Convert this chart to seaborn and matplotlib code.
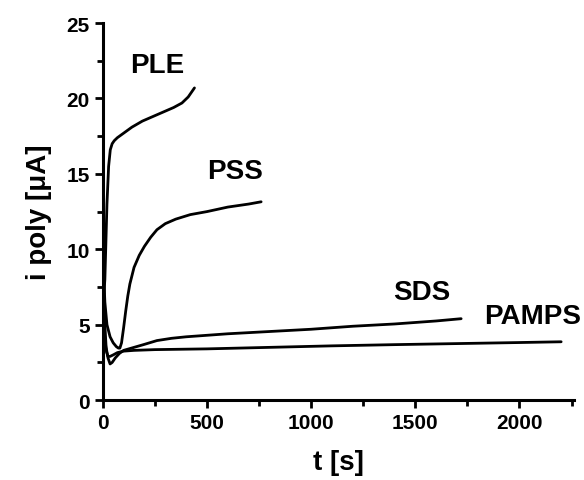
import matplotlib
matplotlib.use("Agg")
import matplotlib.pyplot as plt
from matplotlib.ticker import MultipleLocator
import seaborn as sns
import pandas as pd

# ---- data ----
ple_t = [0, 5, 10, 15, 20, 28, 36, 45, 55, 70, 100, 140, 190, 240, 290, 340, 380, 410, 440]
ple_i = [9.5, 7.0, 8.0, 10.5, 13.0, 15.5, 16.6, 17.0, 17.2, 17.4, 17.7, 18.1, 18.5, 18.8, 19.1, 19.4, 19.7, 20.1, 20.7]

pss_t = [0, 10, 20, 35, 50, 65, 75, 82, 90, 100, 110, 120, 130, 150, 175, 200, 230, 260, 300, 350, 420, 500, 600, 700, 760]
pss_i = [9.8, 6.5, 5.0, 4.2, 3.8, 3.55, 3.45, 3.45, 3.8, 4.8, 5.9, 6.9, 7.7, 8.8, 9.6, 10.2, 10.8, 11.3, 11.7, 12.0, 12.3, 12.5, 12.8, 13.0, 13.15]

sds_t = [0, 8, 16, 25, 35, 45, 60, 80, 100, 150, 200, 260, 330, 400, 600, 800, 1000, 1200, 1400, 1600, 1720]
sds_i = [9.0, 5.5, 3.5, 2.8, 2.4, 2.5, 2.8, 3.1, 3.3, 3.5, 3.7, 3.95, 4.1, 4.2, 4.4, 4.55, 4.7, 4.9, 5.05, 5.25, 5.4]

pamps_t = [0, 5, 10, 18, 25, 35, 50, 70, 100, 150, 250, 500, 800, 1100, 1400, 1700, 2000, 2200]
pamps_i = [9.5, 6.0, 4.0, 3.2, 2.9, 2.9, 3.0, 3.15, 3.25, 3.3, 3.35, 3.4, 3.5, 3.6, 3.68, 3.75, 3.82, 3.87]

series_names = ["PLE", "PSS", "SDS", "PAMPS"]
label_pos = {"PLE": (260, 22.2), "PSS": (634, 15.2), "SDS": (1530, 7.2), "PAMPS": (2065, 5.6)}

x_ticks = [0, 500, 1000, 1500, 2000]
y_ticks = [0, 5, 10, 15, 20, 25]

# ---- plotting ----
sns.set_style("ticks")
plt.rcParams["font.family"] = ["Liberation Sans", "DejaVu Sans"]
plt.rcParams["font.weight"] = "bold"

fig = plt.figure(figsize=(5.84, 4.81), dpi=100)
ax = fig.add_axes([0.176, 0.166, 0.807, 0.784])

data = {
    "PLE": (ple_t, ple_i),
    "PSS": (pss_t, pss_i),
    "SDS": (sds_t, sds_i),
    "PAMPS": (pamps_t, pamps_i),
}
for name in series_names:
    t, i = data[name]
    df = pd.DataFrame({"t": t, "i": i})
    sns.lineplot(data=df, x="t", y="i", ax=ax, color="black", linewidth=2.0, sort=False)
    x, y = label_pos[name]
    ax.text(x, y, name, ha="center", va="center", fontsize=20, fontweight="bold", color="black")

ax.set_xlim(0, 2262)
ax.set_ylim(0, 25)
ax.set_xticks(x_ticks)
ax.set_yticks(y_ticks)
ax.xaxis.set_minor_locator(MultipleLocator(250))
ax.yaxis.set_minor_locator(MultipleLocator(2.5))

sns.despine(ax=ax)
for s in ["left", "bottom"]:
    ax.spines[s].set_linewidth(2.2)
    ax.spines[s].set_color("black")

ax.tick_params(which="major", direction="out", length=6, width=2.0, labelsize=15, color="black", labelcolor="black")
ax.tick_params(which="minor", direction="out", length=4, width=2.0, color="black")
for lab in ax.get_xticklabels() + ax.get_yticklabels():
    lab.set_fontweight("bold")

ax.set_xlabel("t [s]", fontsize=20, fontweight="bold", labelpad=12, color="black")
ax.set_ylabel("i poly [\u03bcA]", fontsize=20, fontweight="bold", labelpad=10, color="black")

fig.savefig("out.png", dpi=100)
